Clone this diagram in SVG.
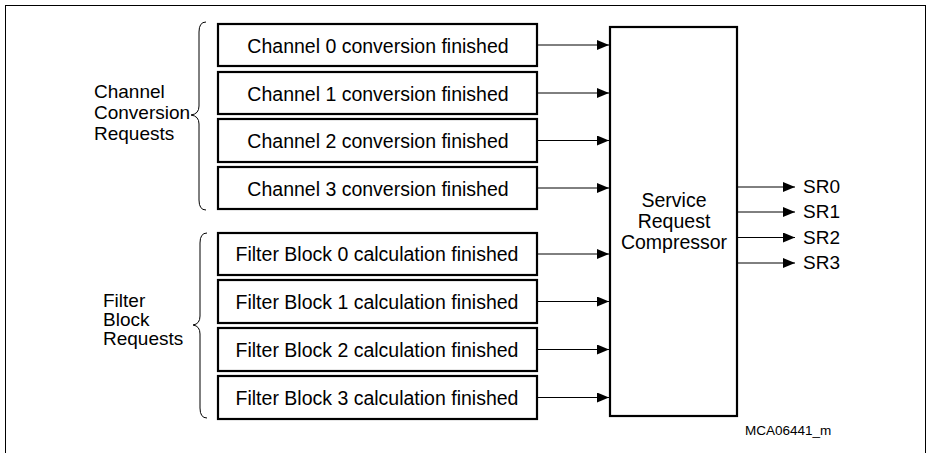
<svg xmlns="http://www.w3.org/2000/svg" width="928" height="453" viewBox="0 0 928 453">
<style>
text{font-family:"Liberation Sans",Arial,sans-serif;fill:#000}
.box{fill:#fff;stroke:#000;stroke-width:2.2}
.bt{font-size:19.5px;text-anchor:middle}
.lbl{font-size:19px}
.wire{stroke:#000;stroke-width:1;fill:none}
.brace{stroke:#000;stroke-width:1;fill:none}
</style>
<defs>
<marker id="ah" markerWidth="12" markerHeight="10" refX="12" refY="5" orient="auto" markerUnits="userSpaceOnUse">
<path d="M0,0 L12,5 L0,10 Z" fill="#000"/>
</marker>
</defs>
<rect x="5.5" y="5.5" width="920" height="460" fill="#fff" stroke="#000" stroke-width="1"/>

<g id="brace-channel">
<path class="brace" d="M206,22 Q199,22 199,32 L199,106 Q199,114 191,115 Q199,116 199,124 L199,200 Q199,210 206,210"/>
<text class="lbl" x="94" y="98">Channel</text>
<text class="lbl" x="94" y="119">Conversion</text>
<text class="lbl" x="94" y="140">Requests</text>
</g>
<g id="brace-filter">
<path class="brace" d="M207,233 Q200,233 200,243 L200,316 Q200,324 193,325 Q200,326 200,334 L200,408 Q200,418 207,418"/>
<text class="lbl" x="103" y="307">Filter</text>
<text class="lbl" x="103" y="326">Block</text>
<text class="lbl" x="103" y="345">Requests</text>
</g>

<g id="ch0"><rect class="box" x="218" y="24" width="319" height="42"/><text class="bt" x="378" y="52.5">Channel 0 conversion finished</text></g>
<g id="ch1"><rect class="box" x="218" y="72" width="319" height="42"/><text class="bt" x="378" y="100.5">Channel 1 conversion finished</text></g>
<g id="ch2"><rect class="box" x="218" y="119" width="319" height="43"/><text class="bt" x="378" y="148">Channel 2 conversion finished</text></g>
<g id="ch3"><rect class="box" x="218" y="167" width="319" height="42"/><text class="bt" x="378" y="195.5">Channel 3 conversion finished</text></g>

<g id="fb0"><rect class="box" x="218" y="233" width="319" height="42"/><text class="bt" x="377" y="261">Filter Block 0 calculation finished</text></g>
<g id="fb1"><rect class="box" x="218" y="280" width="319" height="43"/><text class="bt" x="377" y="308.5">Filter Block 1 calculation finished</text></g>
<g id="fb2"><rect class="box" x="218" y="328" width="319" height="43"/><text class="bt" x="377" y="356.5">Filter Block 2 calculation finished</text></g>
<g id="fb3"><rect class="box" x="218" y="376" width="319" height="43"/><text class="bt" x="377" y="404.5">Filter Block 3 calculation finished</text></g>

<g id="src">
<rect class="box" x="610" y="27" width="127" height="389"/>
<text class="bt" x="674" y="207">Service</text>
<text class="bt" x="674" y="228">Request</text>
<text class="bt" x="674" y="249">Compressor</text>
</g>

<g id="outputs">
<text class="lbl" x="803" y="193">SR0</text>
<text class="lbl" x="803" y="218">SR1</text>
<text class="lbl" x="803" y="243.5">SR2</text>
<text class="lbl" x="803" y="269">SR3</text>
</g>

<g id="connectors">
<line class="wire" x1="537" y1="45" x2="609" y2="45" marker-end="url(#ah)"/>
<line class="wire" x1="537" y1="93" x2="609" y2="93" marker-end="url(#ah)"/>
<line class="wire" x1="537" y1="140.5" x2="609" y2="140.5" marker-end="url(#ah)"/>
<line class="wire" x1="537" y1="188" x2="609" y2="188" marker-end="url(#ah)"/>
<line class="wire" x1="537" y1="254" x2="609" y2="254" marker-end="url(#ah)"/>
<line class="wire" x1="537" y1="301.5" x2="609" y2="301.5" marker-end="url(#ah)"/>
<line class="wire" x1="537" y1="349.5" x2="609" y2="349.5" marker-end="url(#ah)"/>
<line class="wire" x1="537" y1="397.5" x2="609" y2="397.5" marker-end="url(#ah)"/>
<line class="wire" x1="737" y1="187" x2="795" y2="187" marker-end="url(#ah)"/>
<line class="wire" x1="737" y1="212" x2="795" y2="212" marker-end="url(#ah)"/>
<line class="wire" x1="737" y1="237.5" x2="795" y2="237.5" marker-end="url(#ah)"/>
<line class="wire" x1="737" y1="263" x2="795" y2="263" marker-end="url(#ah)"/>
</g>

<text x="745" y="435" style="font-size:13.5px">MCA06441_m</text>
</svg>
